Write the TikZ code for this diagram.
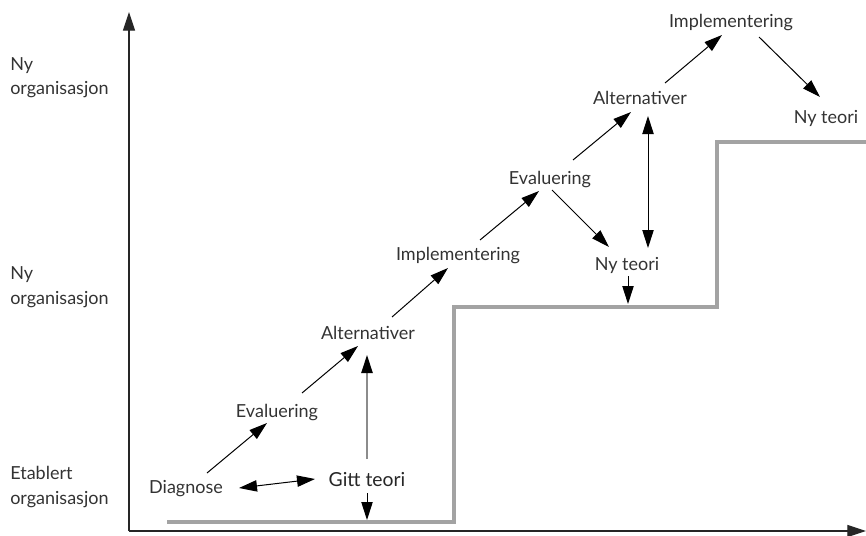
\documentclass[tikz,border=0pt]{standalone}
\usepackage{fontspec}
\setmainfont{Lato}
\usetikzlibrary{arrows.meta,calc}
\definecolor{txt}{HTML}{333333}
\definecolor{stepgray}{HTML}{A3A3A3}
\definecolor{linegray}{HTML}{8C8C8C}
\begin{document}
\begin{tikzpicture}[x=0.75pt,y=-0.75pt,
  lbl/.style={font=\fontsize{13.5}{16}\selectfont, text=txt, inner sep=0pt, anchor=base},
  gittlbl/.style={font=\fontsize{14.5}{17}\selectfont, text=black!85, inner sep=0pt, anchor=base},
  side/.style={font=\fontsize{13.5}{16}\selectfont, text=txt, inner sep=0pt, anchor=base west},
  tip/.style={-{Triangle[length=13.5pt,width=8.5pt]}},
  arr/.style={draw=black, line width=0.75pt, tip},
  darr/.style={draw=black, line width=0.75pt, {Triangle[length=13.5pt,width=8.5pt]}-{Triangle[length=13.5pt,width=8.5pt]}},
  greyarr/.style={draw=linegray, line width=1pt, -{Triangle[length=13.5pt,width=8.5pt,fill=black,color=black]}},
  axis/.style={draw=black!85, line width=0.8pt, -{Triangle[length=14pt,width=9pt]}},
  stair/.style={draw=stepgray, line width=2.3pt, line join=miter}
]
\useasboundingbox (0,0) rectangle (866,535);

% axes
\coordinate (o) at (129,531);
\coordinate (ytip) at (129,12);
\coordinate (xtip) at (866,531);
\draw[axis] (o) -- (ytip);
\draw[axis] (o) -- (xtip);

% side labels
\node[side] (l1a) at (10,70) {Ny};
\node[side] (l1b) at (10,94) {organisasjon};
\node[side] (l2a) at (10,279) {Ny};
\node[side] (l2b) at (10,304) {organisasjon};
\node[side] (l3a) at (10,479) {Etablert};
\node[side] (l3b) at (10,504) {organisasjon};

% staircase
\coordinate (s1) at (167,522);
\coordinate (s2) at (454,522);
\coordinate (s3) at (454,307);
\coordinate (s4) at (717,307);
\coordinate (s5) at (717,142);
\coordinate (s6) at (866,142);
\draw[stair] (s1) -- (s2) -- (s3) -- (s4) -- (s5) -- (s6);
\coordinate (g1) at (367,520);
\coordinate (g2) at (628,304);

% text nodes
\node[lbl] (imp2) at (731,28) {Implementering};
\node[lbl] (alt2) at (640,104) {Alternativer};
\node[lbl] (ny2) at (826,123) {Ny teori};
\node[lbl] (eval2) at (550,184) {Evaluering};
\node[lbl] (imp1) at (458,260) {Implementering};
\node[lbl] (ny1) at (627,270) {Ny teori};
\node[lbl] (alt1) at (368,339) {Alternativer};
\node[lbl] (eval1) at (277,417) {Evaluering};
\node[lbl] (diag) at (186,493) {Diagnose};
\node[gittlbl] (gitt) at (367,486) {Gitt teori};

% connectors
\draw[arr] ($(diag.base)+(21,-20)$) -- ($(eval1.base)+(-10,6)$);
\draw[arr] ($(eval1.base)+(25,-24)$) -- ($(alt1.base)+(-10,7)$);
\draw[arr] ($(alt1.base)+(24,-22)$) -- ($(imp1.base)+(-10,8)$);
\draw[arr] ($(imp1.base)+(22,-20)$) -- ($(eval2.base)+(-11,7)$);
\draw[arr] ($(eval2.base)+(23,-24)$) -- ($(alt2.base)+(-9,8)$);
\draw[arr] ($(alt2.base)+(25,-21)$) -- ($(imp2.base)+(-9,7)$);
\draw[arr] ($(imp2.base)+(28,9)$) -- ($(ny2.base)+(-6,-26)$);
\draw[arr] ($(eval2.base)+(2,6)$) -- ($(ny1.base)+(-18,-23)$);
\draw[darr] ($(alt2.base)+(8,12)$) -- ($(ny1.base)+(21,-22)$);
\draw[arr] ($(ny1.base)+(1,6)$) -- (g2);
\draw[darr] ($(diag.base)+(53,-5)$) -- ($(gitt.base)+(-52,-7)$);
\draw[greyarr] ($(gitt.base)+(0,-27)$) -- ($(alt1.base)+(-1,16)$);
\draw[arr] ($(gitt.base)+(0,7)$) -- (g1);
\end{tikzpicture}
\end{document}
